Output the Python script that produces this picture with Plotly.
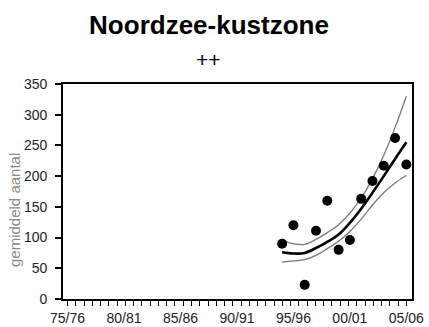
import plotly.graph_objects as go

# ---- data ----
season_labels = ["75/76", "80/81", "85/86", "90/91", "95/96", "00/01", "05/06"]
label_years = [1975, 1980, 1985, 1990, 1995, 2000, 2005]

years = [1994, 1995, 1996, 1997, 1998, 1999, 2000, 2001, 2002, 2003, 2004, 2005]
observed = [90, 120, 23, 111, 160, 80, 96, 163, 192, 217, 262, 219]
trend = [76, 74, 75, 83, 93, 105, 124, 147, 173, 200, 228, 255]
upper = [95, 90, 89, 97, 108, 121, 140, 164, 196, 234, 279, 330]
lower = [60, 62, 64, 71, 82, 94, 110, 130, 153, 173, 189, 201]

FONT = "Liberation Sans, Arial, sans-serif"

fig = go.Figure()
fig.add_trace(go.Scatter(x=years, y=upper, mode="lines",
                         line=dict(color="#777777", width=1.3, shape="spline"),
                         hoverinfo="skip"))
fig.add_trace(go.Scatter(x=years, y=lower, mode="lines",
                         line=dict(color="#777777", width=1.3, shape="spline"),
                         hoverinfo="skip"))
fig.add_trace(go.Scatter(x=years, y=trend, mode="lines",
                         line=dict(color="black", width=2.6, shape="spline")))
fig.add_trace(go.Scatter(x=years, y=observed, mode="markers",
                         marker=dict(color="black", size=10, line=dict(width=0))))

fig.update_layout(
    width=429, height=327,
    margin=dict(l=63, r=17, t=84, b=28, autoexpand=False),
    paper_bgcolor="white", plot_bgcolor="white",
    showlegend=False,
    font=dict(family=FONT, color="black"),
    title=dict(text="<b>Noordzee-kustzone</b>", font=dict(size=26, family=FONT, color="black"),
               x=209 / 429, xanchor="center", xref="container",
               y=1 - 25 / 327, yanchor="middle", yref="container"),
    xaxis=dict(range=[1974.6, 2005.5], tickmode="array", tickvals=label_years,
               ticktext=season_labels, ticks="", showgrid=False, zeroline=False,
               showline=True, linecolor="black", linewidth=1.5, mirror=True,
               tickfont=dict(size=14, family=FONT, color="#222"),
               ticklabelstandoff=5, automargin=False,
               minor=dict(ticks="outside", tick0=1975, dtick=30 / 41, ticklen=5,
                          tickwidth=1.2, tickcolor="black", showgrid=False)),
    yaxis=dict(range=[0, 350], tickmode="linear", tick0=0, dtick=50,
               ticks="outside", ticklen=6, tickwidth=1.5, tickcolor="black",
               showgrid=False, zeroline=False, showline=True, linecolor="black",
               linewidth=1.8, mirror=True, ticklabelstandoff=5, automargin=False,
               tickfont=dict(size=14, family=FONT, color="#222")),
    annotations=[
        dict(text="++", x=(208 - 63) / 349, y=(299 - 60) / 215, xref="paper", yref="paper",
             showarrow=False, font=dict(size=21, family=FONT, color="black"),
             xanchor="center", yanchor="middle"),
        dict(text="gemiddeld aantal", x=(14 - 63) / 349, y=(299 - 210) / 215,
             xref="paper", yref="paper", textangle=-90, showarrow=False,
             font=dict(size=15, family=FONT, color="#8a8a8a"),
             xanchor="center", yanchor="middle"),
    ],
)

fig.write_html("out.html", config={"displayModeBar": False},
               post_script="document.body.style.margin='0px';")
